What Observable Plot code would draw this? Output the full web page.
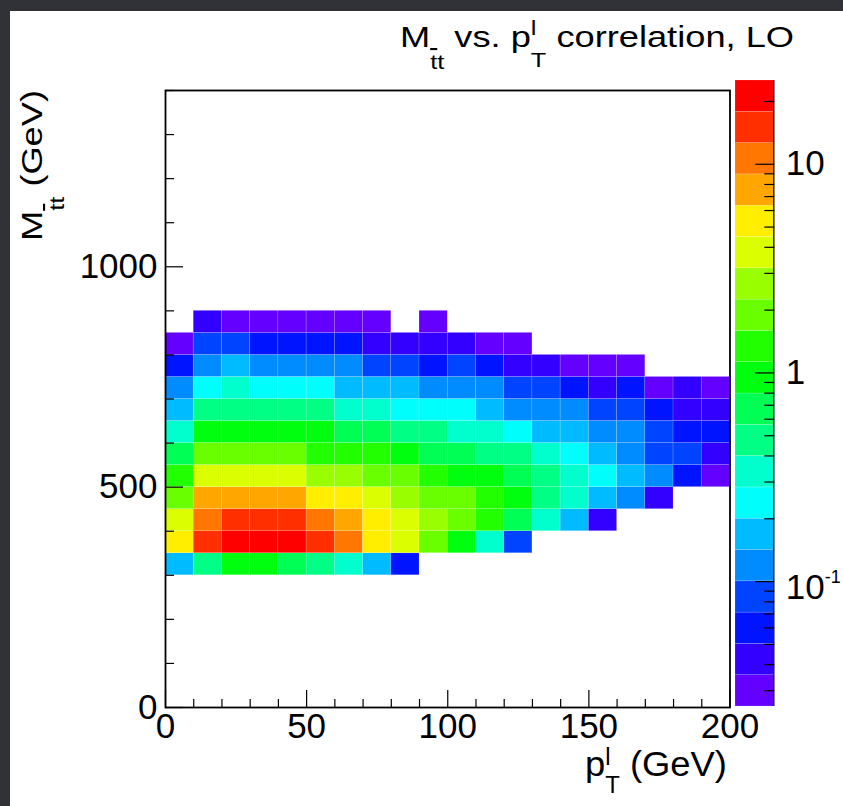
<!DOCTYPE html>
<html>
<head>
<meta charset="utf-8">
<script src="https://cdn.jsdelivr.net/npm/d3@7"></script>
<script src="https://cdn.jsdelivr.net/npm/@observablehq/plot@0.6"></script>
<style>
  html, body { margin: 0; padding: 0; }
  body {
    width: 843px; height: 806px; overflow: hidden; position: relative;
    background: #303237;
    font-family: "Liberation Sans", Arial, Helvetica, sans-serif;
  }
  #panel { position: absolute; left: 10px; top: 11px; right: 0; bottom: 0; background: #fff; }
  #main, #bar { position: absolute; top: 0; }
  #main { left: 0; }
  #bar { left: 735px; }
</style>
</head>
<body>
<div id="panel"></div>
<div id="main"></div>
<div id="bar"></div>
<script>
const FONT = '"Liberation Sans", Arial, Helvetica, sans-serif';

// Lepton pT bins (lower edges, GeV) and Mtt bins (lower edges, GeV)
const ptLow = [0, 10, 20, 30, 40, 50, 60, 70, 80, 90, 100, 110, 120, 130, 140, 150, 160, 170, 180, 190];
const ptStep = 10;
const mttLow = [300, 350, 400, 450, 500, 550, 600, 650, 700, 750, 800, 850];
const mttStep = 50;

// Bin contents per Mtt row, one entry per pT bin (null = empty bin)
const m300 = [0.17, 0.47, 0.96, 0.94, 0.67, 0.47, 0.34, 0.17, 0.06, null, null, null, null, null, null, null, null, null, null, null];
const m350 = [5.3, 15, 21, 22, 21.5, 15.2, 10.6, 5.2, 3.8, 1.9, 0.95, 0.33, 0.085, null, null, null, null, null, null, null];
const m400 = [3.8, 10.5, 15, 15.5, 14.8, 10.8, 7.5, 5.3, 3.75, 2.7, 1.9, 1.33, 0.67, 0.34, 0.17, 0.042, null, null, null, null];
const m450 = [1.9, 7.6, 7.8, 7.7, 7.4, 5.4, 5.2, 3.8, 2.7, 1.9, 1.85, 1.35, 0.95, 0.47, 0.33, 0.17, 0.12, 0.042, null, null];
const m500 = [1.35, 3.8, 3.9, 3.85, 3.7, 2.7, 2.65, 1.95, 1.85, 1.35, 0.96, 0.94, 0.67, 0.47, 0.34, 0.24, 0.17, 0.12, 0.06, 0.03];
const m550 = [0.67, 1.9, 1.95, 1.9, 1.85, 1.35, 1.3, 1.32, 0.93, 0.68, 0.66, 0.47, 0.46, 0.33, 0.24, 0.17, 0.12, 0.085, 0.083, 0.042];
const m600 = [0.34, 0.95, 0.97, 0.98, 0.96, 0.92, 0.68, 0.66, 0.48, 0.46, 0.34, 0.33, 0.24, 0.17, 0.16, 0.12, 0.115, 0.082, 0.062, 0.058];
const m650 = [0.17, 0.48, 0.47, 0.49, 0.46, 0.45, 0.34, 0.33, 0.25, 0.24, 0.24, 0.17, 0.12, 0.115, 0.12, 0.08, 0.078, 0.06, 0.043, 0.042];
const m700 = [0.12, 0.25, 0.33, 0.24, 0.25, 0.23, 0.17, 0.16, 0.165, 0.12, 0.12, 0.125, 0.082, 0.077, 0.058, 0.045, 0.055, 0.031, 0.041, 0.03];
const m750 = [0.062, 0.12, 0.16, 0.12, 0.13, 0.12, 0.115, 0.085, 0.08, 0.061, 0.078, 0.058, 0.043, 0.04, 0.032, 0.03, 0.031, null, null, null];
const m800 = [0.03, 0.085, 0.082, 0.06, 0.058, 0.062, 0.064, 0.044, 0.041, 0.043, 0.04, 0.033, 0.031, null, null, null, null, null, null, null];
const m850 = [null, 0.042, 0.03, 0.031, 0.029, 0.03, 0.031, 0.032, null, 0.028, null, null, null, null, null, null, null, null, null, null];
const rows = [m300, m350, m400, m450, m500, m550, m600, m650, m700, m750, m800, m850];

// Axis ticks
const xMajor = [0, 50, 100, 150, 200];
const xMinor = [10, 20, 30, 40, 60, 70, 80, 90, 110, 120, 130, 140, 160, 170, 180, 190];
const yMajor = [0, 500, 1000];
const yMinor = [100, 200, 300, 400, 600, 700, 800, 900, 1100, 1200, 1300, 1400];
const zMajor = [0.1, 1, 10];
const zMinor = [0.03, 0.04, 0.05, 0.06, 0.07, 0.08, 0.09, 0.2, 0.3, 0.4, 0.5, 0.6, 0.7, 0.8, 0.9,
                2, 3, 4, 5, 6, 7, 8, 9, 20];

// Colour range (log z), 20 contour levels, rainbow palette violet -> red
const zMin = 0.0252, zMax = 25.2;
const palette = ["#6300FF", "#3300FF", "#0014FF", "#0044FF", "#008BFF", "#00BBFF", "#00FFFC", "#00FFCC",
                 "#00FF85", "#00FF55", "#00FF0E", "#22FF00", "#69FF00", "#99FF00", "#DBFF00", "#FFEE00",
                 "#FFA700", "#FF7700", "#FF2F00", "#FF0000"];
const nLevels = palette.length;
const levelEdges = d3.range(nLevels + 1).map(k => zMin * Math.pow(zMax / zMin, k / nLevels));
const thresholds = levelEdges.slice(1, -1);
const levels = palette.map((c, k) => ({lo: levelEdges[k], hi: levelEdges[k + 1], mid: Math.sqrt(levelEdges[k] * levelEdges[k + 1])}));
const colorScale = {type: "threshold", domain: thresholds, range: palette};

const cells = [];
rows.forEach((row, i) => row.forEach((v, j) => {
  if (v != null) cells.push({pt: ptLow[j], mtt: mttLow[i], value: v});
}));

const W = 843, H = 806;
const baseStyle = {background: "none", fontFamily: FONT, fontSize: "35px", color: "black", overflow: "visible"};

const main = Plot.plot({
  width: W, height: H,
  marginLeft: 165, marginRight: W - 729.5, marginTop: 90, marginBottom: H - 707,
  style: baseStyle,
  x: {domain: [0, 200]},
  y: {domain: [0, 1400]},
  color: colorScale,
  marks: [
    Plot.rect(cells, {
      x1: "pt", x2: d => d.pt + ptStep, y1: "mtt", y2: d => d.mtt + mttStep,
      fill: "value", stroke: "white", strokeOpacity: 0.25, strokeWidth: 0.6
    }),
    Plot.axisX({ticks: xMinor, tickSize: -8, tickFormat: () => "", label: null, strokeWidth: 1.2}),
    Plot.axisX({ticks: xMajor, tickSize: -17, tickFormat: () => "", label: null, strokeWidth: 1.2}),
    Plot.axisX({ticks: xMajor, tickSize: 0, tickPadding: 6, label: null, tickFormat: d => String(d)}),
    Plot.axisY({ticks: yMinor, tickSize: -9, tickFormat: () => "", label: null, strokeWidth: 1.2}),
    Plot.axisY({ticks: yMajor, tickSize: -18, tickFormat: () => "", label: null, strokeWidth: 1.2}),
    Plot.axisY({ticks: yMajor, tickSize: 0, tickPadding: 8, label: null, tickFormat: d => String(d)}),
    Plot.frame({stroke: "black", strokeWidth: 1.8})
  ]
});
document.getElementById("main").append(main);

// Colour bar with its log axis
const bar = Plot.plot({
  width: 108, height: H,
  marginLeft: 0, marginRight: 108 - 38.3, marginTop: 80, marginBottom: H - 706,
  style: baseStyle,
  x: {domain: [0, 1], axis: null},
  y: {type: "log", domain: [zMin, zMax], axis: null},
  color: colorScale,
  marks: [
    Plot.rect(levels, {x1: 0, x2: 1, y1: "lo", y2: "hi", fill: "mid", stroke: "white", strokeOpacity: 0.25, strokeWidth: 0.6}),
    Plot.ruleX([1], {stroke: "#222", strokeWidth: 1.5}),
    Plot.axisY({anchor: "right", ticks: zMinor, tickSize: -10, tickFormat: () => "", label: null, strokeWidth: 1.2}),
    Plot.axisY({anchor: "right", ticks: zMajor, tickSize: -19, tickFormat: () => "", label: null, strokeWidth: 1.2}),
    Plot.axisY({anchor: "right", ticks: zMajor, tickSize: 0, tickPadding: 12, label: null,
                tickFormat: d => d === 0.1 ? "10-1" : String(d)})
  ]
});
document.getElementById("bar").append(bar);

// Exponent on the 10^-1 colour-bar label
d3.select(bar).selectAll("text").filter(function() { return this.textContent === "10-1"; })
  .each(function() {
    const t = d3.select(this);
    t.text("");
    t.append("tspan").attr("dy", 6).text("10");
    t.append("tspan").attr("dy", -16).style("font-size", "18px").text("-1");
  });

const svg = d3.select(main);

// Title: M_{t̄t} vs. p_T^l correlation, LO
const title = svg.append("text")
  .attr("x", 794).attr("y", 47).attr("text-anchor", "end")
  .attr("fill", "black").style("font-size", "30px")
  .attr("textLength", 394).attr("lengthAdjust", "spacingAndGlyphs");
title.append("tspan").text("M");
const tsub = title.append("tspan").attr("dy", 22).style("font-size", "21px");
tsub.append("tspan").style("text-decoration", "overline").text("t");
tsub.append("tspan").text("t");
title.append("tspan").attr("dy", -22).text(" vs. p");
title.append("tspan").attr("dy", -12).style("font-size", "21px").text("l");
title.append("tspan").attr("dx", -4.7).attr("dy", 32).style("font-size", "21px").text("T");
title.append("tspan").attr("dy", -20).text(" correlation, LO");

// y-axis title: M_{t̄t} (GeV)
const ytitle = svg.append("text")
  .attr("transform", "translate(42,90) rotate(-90)").attr("text-anchor", "end")
  .attr("fill", "black").style("font-size", "30px")
  .attr("textLength", 151).attr("lengthAdjust", "spacingAndGlyphs");
ytitle.append("tspan").text("M");
const ysub = ytitle.append("tspan").attr("dy", 22).style("font-size", "21px");
ysub.append("tspan").style("text-decoration", "overline").text("t");
ysub.append("tspan").text("t");
ytitle.append("tspan").attr("dy", -22).text(" (GeV)");

// x-axis title: p_T^l (GeV)
const xtitle = svg.append("text")
  .attr("x", 727).attr("y", 776).attr("text-anchor", "end")
  .attr("fill", "black").style("font-size", "35px")
  .attr("textLength", 142).attr("lengthAdjust", "spacingAndGlyphs");
xtitle.append("tspan").text("p");
xtitle.append("tspan").attr("dy", -11).style("font-size", "23px").text("l");
xtitle.append("tspan").attr("dx", -5.1).attr("dy", 28).style("font-size", "23px").text("T");
xtitle.append("tspan").attr("dy", -17).text(" (GeV)");
</script>
</body>
</html>
